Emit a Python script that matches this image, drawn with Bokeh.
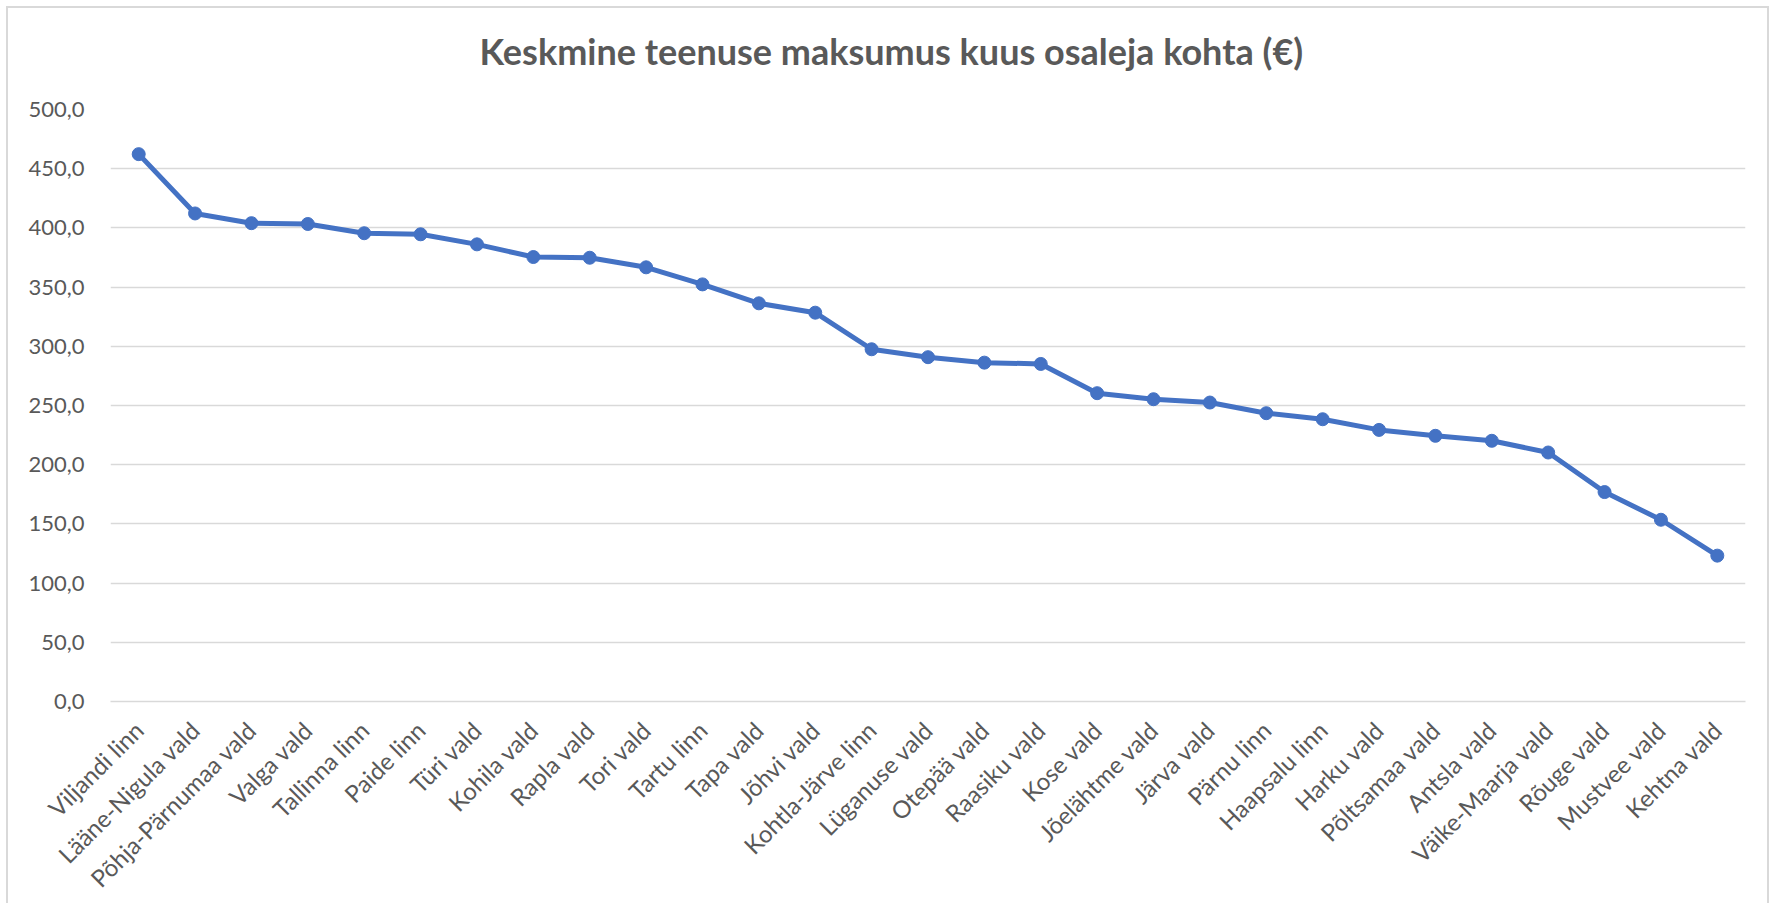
import math
from bokeh.plotting import figure
from bokeh.models import ColumnDataSource, FactorRange, Range1d, FixedTicker, CustomJSTickFormatter, Title
from bokeh.embed import file_html
from bokeh.resources import INLINE

title_text = "Keskmine teenuse maksumus kuus osaleja kohta (€)"
categories = [
    "Viljandi linn", "Lääne-Nigula vald", "Põhja-Pärnumaa vald", "Valga vald",
    "Tallinna linn", "Paide linn", "Türi vald", "Kohila vald", "Rapla vald",
    "Tori vald", "Tartu linn", "Tapa vald", "Jõhvi vald", "Kohtla-Järve linn",
    "Lüganuse vald", "Otepää vald", "Raasiku vald", "Kose vald", "Jõelähtme vald",
    "Järva vald", "Pärnu linn", "Haapsalu linn", "Harku vald", "Põltsamaa vald",
    "Antsla vald", "Väike-Maarja vald", "Rõuge vald", "Mustvee vald", "Kehtna vald",
]
values = [
    462.3, 412.2, 404.0, 403.3, 395.5, 394.6, 386.1, 375.4, 374.8,
    366.7, 352.3, 336.3, 328.4, 297.5, 290.8, 286.2, 285.1, 260.4, 255.3,
    252.5, 243.5, 238.4, 229.4, 224.4, 220.2, 210.3, 176.9, 153.5, 123.2,
]
y_ticks = [0, 50, 100, 150, 200, 250, 300, 350, 400, 450, 500]

FONT = "Lato"
TXT = "#595959"
BLUE = "#4472C4"

W, H = 1763, 897
src = ColumnDataSource(dict(cat=categories, val=values))

p = figure(
    width=W, height=H,
    x_range=FactorRange(factors=categories, range_padding=0),
    y_range=Range1d(0, 500),
    output_backend="svg", toolbar_location=None,
    min_border_left=102, min_border_right=26, min_border_top=101, min_border_bottom=195,
)
p.outline_line_color = None
p.background_fill_color = "white"
p.border_fill_color = "white"
p.styles = {"margin-left": "6px", "margin-top": "6px",
            "border-left": "2px solid #D9D9D9", "border-top": "2px solid #D9D9D9",
            "border-right": "2px solid #D9D9D9"}

p.title.text = title_text
p.title.align = "left"
p.title.offset = 369
p.title.standoff = 0
p.title.text_font = FONT
p.title.text_font_style = "bold"
p.title.text_font_size = "36px"
p.title.text_color = TXT

# empty spacer between the title and the plot area
spacer = Title(text=" ", text_font_size="10px", standoff=24)
p.add_layout(spacer, "above")

p.xgrid.grid_line_color = None
p.ygrid.grid_line_color = "#D9D9D9"
p.ygrid.grid_line_width = 1.5

p.yaxis.ticker = FixedTicker(ticks=y_ticks)
p.yaxis.formatter = CustomJSTickFormatter(code="return tick.toFixed(1).replace('.', ',');")
for ax in (p.xaxis, p.yaxis):
    ax.axis_line_color = None
    ax.major_tick_line_color = None
    ax.minor_tick_line_color = None
    ax.major_label_text_color = TXT
    ax.major_label_text_font = FONT
p.yaxis.major_label_text_font_size = "22px"
p.yaxis.major_label_standoff = 20
p.xaxis.major_label_text_font_size = "24px"
p.xaxis.major_label_orientation = math.pi / 4
p.xaxis.major_label_standoff = 18
p.xaxis.axis_line_color = "#D9D9D9"
p.xaxis.axis_line_width = 1.5

p.line(x="cat", y="val", source=src, line_color=BLUE, line_width=5, line_join="round")
p.scatter(x="cat", y="val", source=src, size=13, fill_color=BLUE, line_color=BLUE)

open("out.html", "w").write(file_html(p, INLINE))
